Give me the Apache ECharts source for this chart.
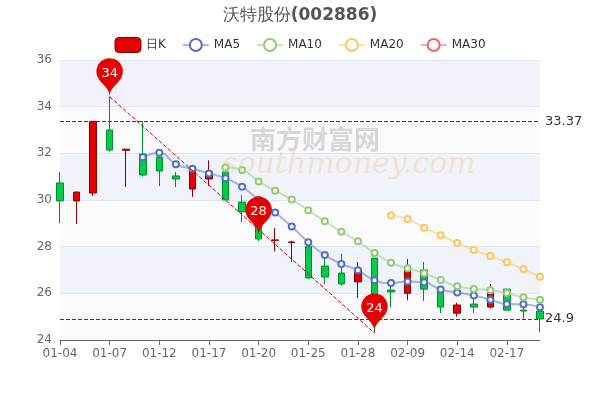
<!DOCTYPE html>
<html><head><meta charset="utf-8">
<script src="https://cdn.jsdelivr.net/npm/echarts@6/dist/echarts.min.js"></script>
<style>html,body{margin:0;padding:0}#c{width:600px;height:400px}</style></head>
<body><div id="c"></div>
<script>
const dates=['01-04','01-05','01-06','01-07','01-10','01-11','01-12','01-13','01-14','01-17','01-18','01-19','01-20','01-21','01-24','01-25','01-26','01-27','01-28','02-07','02-08','02-09','02-10','02-11','02-14','02-15','02-16','02-17','02-18','02-21'];
// [open, close, low, high]
const kData=[
[30.73,29.96,29.0,31.2],[29.96,30.34,28.97,30.36],[30.3,33.37,30.17,33.37],[33.0,32.14,32.07,34.43],
[32.13,32.18,30.56,32.18],[31.97,31.07,31.0,33.38],[31.84,31.24,30.6,31.9],[31.03,30.9,30.55,31.2],
[30.47,31.24,30.13,31.3],[30.9,31.2,30.6,31.7],[31.2,30.0,30.0,31.2],[29.91,29.49,29.05,30.2],
[29.14,28.33,28.24,29.4],[28.27,28.29,27.8,28.8],[28.18,28.2,27.35,28.25],[28.0,26.66,26.6,28.0],
[27.17,26.7,26.4,27.73],[26.87,26.4,26.33,27.7],[26.49,27.0,25.8,27.34],[27.51,25.93,24.3,27.51],
[26.14,26.06,25.4,26.6],[26.0,27.04,25.7,27.47],[27.0,26.18,25.67,27.34],[26.27,25.41,25.15,26.27],
[25.15,25.5,25.0,25.6],[25.54,25.41,25.15,25.93],[25.41,26.06,25.35,26.4],[26.18,25.28,25.28,26.2],
[25.28,25.24,24.86,25.63],[25.24,24.9,24.34,25.3]];
const ma5=['-','-','-','-','-',31.83,32.03,31.53,31.34,31.14,30.93,30.57,30.0,29.46,28.86,28.19,27.64,27.26,26.99,26.56,26.44,26.51,26.47,26.16,26.04,25.91,25.73,25.54,25.53,25.4];
const ma10=['-','-','-','-','-','-','-','-','-','-',31.39,31.29,30.79,30.4,30.02,29.56,29.09,28.64,28.23,27.73,27.31,27.07,26.86,26.57,26.3,26.19,26.13,26.01,25.83,25.73];
const ma20=['-','-','-','-','-','-','-','-','-','-','-','-','-','-','-','-','-','-','-','-',29.34,29.19,28.81,28.49,28.16,27.86,27.6,27.33,27.03,26.71];
const ma30=dates.map(()=> '-');
const yTicks=[24,26,28,30,32,34,36];
const chart=echarts.init(document.getElementById('c'));
const lineS=(name,data,color)=>({name,type:'line',data,smooth:true,symbol:'emptyCircle',symbolSize:6,
  itemStyle:{color},lineStyle:{color,width:2,opacity:0.5},z:3});
const dash={color:'#cc0000',type:'dashed',width:1};
chart.setOption({
 animation:false,
 textStyle:{fontFamily:'DejaVu Sans'},
 title:{text:'沃特股份{b|(002886)}',left:'center',top:2,textStyle:{fontSize:17,fontWeight:'normal',color:'#555',rich:{b:{fontSize:17,fontWeight:'bold',color:'#555'}}}},
 legend:{top:32,left:'center',itemGap:16,itemWidth:26,itemHeight:15,textStyle:{color:'#333',fontSize:12},
  data:[{name:'日K',icon:'roundRect',itemStyle:{color:'#e60000',borderColor:'#8a0000',borderWidth:1}},'MA5','MA10','MA20','MA30']},
 grid:{left:60,right:60,top:60,bottom:60},
 graphic:[{type:'text',left:250,top:126,z:100,style:{text:'南方财富网',font:'bold 26px "Noto Sans CJK SC"',fill:'rgba(150,150,150,0.35)'}},
  {type:'text',left:222,top:150,z:100,style:{text:'southmoney.com',font:'italic 30px "DejaVu Serif"',fill:'rgba(250,190,110,0.3)'}}],
 xAxis:{type:'category',data:dates,boundaryGap:false,axisLine:{lineStyle:{color:'#666'}},axisTick:{interval:2,alignWithLabel:true},
  axisLabel:{interval:2,color:'#666',fontSize:12},splitLine:{show:false}},
 yAxis:{type:'value',min:24,max:36,interval:2,scale:true,axisLine:{show:false},axisTick:{show:false},
  axisLabel:{color:'#666',fontSize:12,formatter:v=>yTicks.includes(v)?String(v):''},
  splitLine:{lineStyle:{color:'#e0e6f1'}},splitArea:{show:true,areaStyle:{color:['rgba(250,250,252,1)','rgba(240,243,250,1)']}}},
 series:[
  {name:'日K',type:'candlestick',data:kData,barWidth:7,
   itemStyle:{color:'#e60000',color0:'#00cc44',borderColor:'#8a0000',borderColor0:'#008f28'},
   markPoint:{symbol:'pin',symbolSize:44,itemStyle:{color:'#e60000'},label:{color:'#fff',fontSize:13},
    data:[{coord:[3,34.43],value:34},{coord:[12,28.5],value:28},{coord:[19,24.35],value:24}]},
   markLine:{symbol:['none','none'],lineStyle:dash,itemStyle:{color:'#cc0000'},
    label:{position:'end',color:'#333',fontSize:13},
    data:[{yAxis:33.37,lineStyle:dash,itemStyle:{color:'#cc0000'}},{yAxis:24.9,lineStyle:dash,itemStyle:{color:'#cc0000'}},
     [{coord:[3,34.43],label:{show:false},lineStyle:dash},{coord:[19,24.3]}]]}},
  lineS('MA5',ma5,'#5470c6'),lineS('MA10',ma10,'#91cc75'),lineS('MA20',ma20,'#fac858'),lineS('MA30',ma30,'#ee6666')
 ]
});
</script></body></html>
